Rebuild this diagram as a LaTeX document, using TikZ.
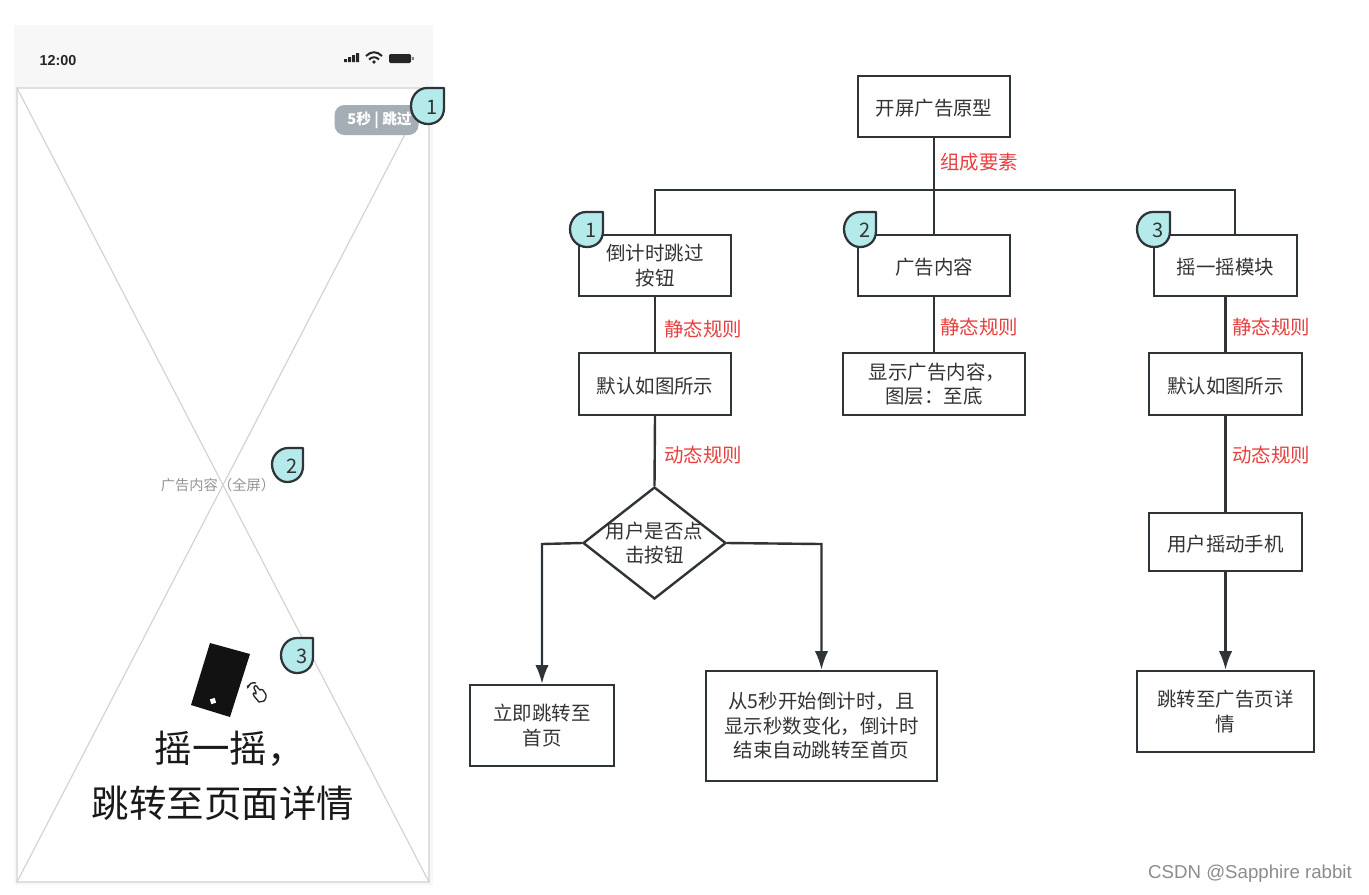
\documentclass[tikz,border=0pt]{standalone}
\usepackage{fontspec}
\usetikzlibrary{shapes.geometric,arrows.meta}
\setmainfont{Noto Sans CJK SC}
\newfontfamily\latinb{Liberation Sans}
\definecolor{ink}{HTML}{333333}
\definecolor{edgec}{HTML}{2F3438}
\definecolor{redl}{HTML}{E8403F}
\definecolor{teal}{HTML}{B5EAEA}
\definecolor{wire}{HTML}{D4D4D4}
\definecolor{pillc}{HTML}{A5AEB5}
\tikzset{
  x=0.75pt,y=-0.75pt,
  flowbox/.style={draw=edgec,line width=1.8pt,fill=white,text=ink,inner sep=0pt,font=\fontsize{14.6}{18.4}\selectfont,align=center,execute at begin node={\rule{0pt}{15.2pt}}},
  size/.style 2 args={minimum width=#1*0.75pt,minimum height=#2*0.75pt},
  conn/.style={draw=edgec,line width=1.8pt},
  arrowconn/.style={conn,-{Latex[length=14pt,width=10pt]}},
  rulelabel/.style={text=redl,inner sep=0pt,font=\fontsize{14.6}{18}\selectfont},
  badgeshape/.style={draw=edgec,line width=1.7pt,fill=teal,line join=round},
  badgetext/.style={text=ink,inner sep=0pt,font=\fontsize{15}{18}\selectfont},
}
\newcommand{\badgeat}[5]{% left top right bottom number
  \path[badgeshape] (#3,#2) -- (#3,#4-16)
    .. controls (#3,#4-6) and (#3-7,#4) .. (#3-16,#4)
    .. controls (#1+7,#4) and (#1,#4-8) .. (#1,#4-18)
    .. controls (#1,#2+8) and (#1+7,#2) .. (#1+16,#2) -- cycle;
  \node[badgetext] (badge#5#1) at ({(#1+#3)/2+5},{(#2+#4)/2+1}) {#5};
}
\begin{document}
\begin{tikzpicture}
\useasboundingbox (0,0) rectangle (1369,894);
\fill[white] (0,0) rectangle (1369,894);
% phone
\fill[black!3] (14,25) rectangle (433,88);
\fill[black!3] (14,88) rectangle (433,885);
\draw[draw=black!12,fill=white,line width=1.1pt] (17,88) rectangle (429,882);
\draw[wire,line width=0.9pt] (17,88) -- (429,882) (429,88) -- (17,882);
\node[inner sep=0pt,text=black!85,font=\latinb\bfseries\fontsize{10.8}{12}\selectfont] (clock) at (58,61) {12:00};
% status icons
\fill[black!85] (344,62) rectangle +(3,-3) (348,62) rectangle +(3,-5) (352,62) rectangle +(3,-7) (356,62) rectangle +(3,-9);
\draw[black!85,line width=1.5pt] (366,56) .. controls (371,51) and (377,51) .. (382,56);
\draw[black!85,line width=1.5pt] (369,59.5) .. controls (372,56.5) and (376,56.5) .. (379,59.5);
\fill[black!85] (374,62) circle (1.8);
\fill[black!85,rounded corners=1pt] (389,54) rectangle (411,63);
\fill[black!50] (412,57) rectangle (414,60);
% skip pill
\node[fill=pillc,rounded corners=7.5pt,inner sep=0pt,minimum width=84*0.75pt,minimum height=30*0.75pt] (pill) at (376.5,120) {};
\node[text=white,inner sep=0pt,font=\bfseries\fontsize{11}{12}\selectfont] (pilltext) at (379.5,120) {5秒 | 跳过};
\badgeat{411}{88}{444}{124}{1}
% content label
\node[inner sep=1pt,text=black!42,font=\fontsize{10.7}{12}\selectfont] (adlabel) at (218,485) {广告内容（全屏）};
\badgeat{272}{448}{303}{482}{2}
% shake
\fill[black!93] (210,643) -- (250,654) -- (230,717) -- (191,705) -- cycle;
\fill[white,rotate around={17:(213,701)}] (210.5,698.5) rectangle (215.5,703.5);
\draw[black!85,line width=1pt,line join=round,fill=white] (256,692) -- (254,688) .. controls (254,685) and (257,685) .. (258,688) -- (260,690)
 .. controls (262,688) and (264,691) .. (265,693) .. controls (267,695) and (266,699) .. (264,701) -- (259,702) -- (254,696) .. controls (252,693) and (254,692) .. (256,694) -- cycle;
\draw[black!85,line width=1pt,-{Latex[length=2.5pt,width=2.5pt]}] (256,683) .. controls (252,682) and (249,684) .. (247,689);
\badgeat{281}{638}{313}{673}{3}
\node[inner sep=0pt,text=black!90,align=center,font=\fontsize{28.1}{41}\selectfont] (slogan) at (223,776) {\hspace*{10pt}摇一摇，\\跳转至页面详情};
% flow nodes
\node[flowbox,size={152}{61}] (root) at (934,106.5) {开屏广告原型};
\node[flowbox,size={152}{61}] (a1) at (655,265.5) {倒计时跳过\\按钮};
\node[flowbox,size={152}{61}] (b1) at (934,265.5) {广告内容};
\node[flowbox,size={143}{61}] (c1) at (1225.5,265.5) {摇一摇模块};
\node[flowbox,size={152}{62}] (a2) at (655,384) {默认如图所示};
\node[flowbox,size={182}{62}] (b2) at (934,384) {\hspace*{4.5pt}显示广告内容，\\图层：至底};
\node[flowbox,size={153}{62}] (c2) at (1225.5,384) {默认如图所示};
\node[draw=edgec,line width=1.8pt,fill=white,diamond,aspect=1.28,inner sep=0pt,minimum width=143*0.75pt,minimum height=112*0.75pt] (dec) at (654.5,543) {};
\node[inner sep=0pt,text=ink,align=center,font=\fontsize{14.6}{18}\selectfont] (dectext) at (654.5,543.5) {用户是否点\\击按钮};
\node[flowbox,size={153}{58}] (c3) at (1225.5,542) {用户摇动手机};
\node[flowbox,size={144}{81}] (a3) at (542,725.5) {立即跳转至\\首页};
\node[flowbox,size={231}{110}] (a4) at (821.5,726) {从5秒开始倒计时，且\\显示秒数变化，倒计时\\结束自动跳转至首页};
\node[flowbox,size={177}{81}] (c4) at (1225.5,711.5) {跳转至广告页详\\情};
% connectors
\coordinate (hub) at (934,190);
\coordinate (hubl) at (655,190);
\coordinate (hubr) at (1235,190);
\draw[conn] (root.south) -- (b1.north);
\draw[conn] (a1.north) -- (hubl) -- (hubr) -- (hubr |- c1.north);
\draw[conn] (a1.south) -- (a2.north);
\draw[conn] (b1.south) -- (b2.north);
\draw[conn] (c1.south) -- (c2.north);
\draw[conn] (a2.south) -- (dec.north);
\draw[conn] (c2.south) -- (c3.north);
\draw[arrowconn] (c3.south) -- (c4.north);
\draw[arrowconn] (dec.west) -- (a3.north |- 0,544) -- (a3.north);
\draw[arrowconn] (dec.east) -- (a4.north |- 0,544) -- (a4.north);
% labels
\node[rulelabel] (l0) at (979,162.5) {组成要素};
\node[rulelabel] (l1) at (703,329.5) {静态规则};
\node[rulelabel] (l2) at (979,327.5) {静态规则};
\node[rulelabel] (l3) at (1271,327.5) {静态规则};
\node[rulelabel] (l4) at (703,455.5) {动态规则};
\node[rulelabel] (l5) at (1271,455.5) {动态规则};
\badgeat{570}{212}{603}{247}{1}
\badgeat{844}{212}{876}{247}{2}
\badgeat{1137}{212}{1170}{247}{3}
\node[inner sep=0pt,text=black!45,font=\latinb\fontsize{14}{16}\selectfont] (wm) at (1250,874) {CSDN @Sapphire rabbit};
\end{tikzpicture}
\end{document}
